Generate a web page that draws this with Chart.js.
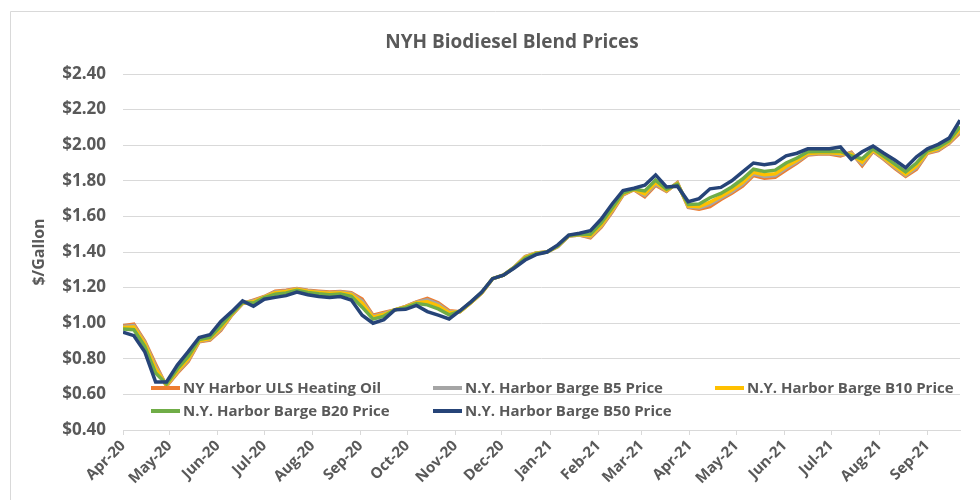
<!DOCTYPE html>
<html>
<head>
<meta charset="utf-8">
<script src="https://cdn.jsdelivr.net/npm/chart.js@4.4.0/dist/chart.umd.min.js"></script>
<style>
  html, body { margin: 0; padding: 0; background: #fff; }
  #wrap { width: 980px; height: 500px; }
</style>
</head>
<body>
<div id="wrap"><canvas id="blendChart"></canvas></div>
<script>
// NYH Biodiesel Blend Prices, weekly from Apr 1 2020
const firstWeek = '2020-04-01';

const seriesNames = [
  'NY Harbor ULS Heating Oil',
  'N.Y. Harbor Barge B5 Price',
  'N.Y. Harbor Barge B10 Price',
  'N.Y. Harbor Barge B20 Price',
  'N.Y. Harbor Barge B50 Price'
];

const heatingOil = [
  0.985, 0.995, 0.900, 0.770, 0.645, 0.720, 0.785, 0.895, 0.905, 0.960,
  1.045, 1.110, 1.130, 1.150, 1.180, 1.185, 1.195, 1.185, 1.180, 1.175,
  1.178, 1.172, 1.135, 1.045, 1.060, 1.075, 1.095, 1.120, 1.140, 1.115,
  1.070, 1.065, 1.115, 1.170, 1.250, 1.270, 1.315, 1.375, 1.395, 1.400,
  1.430, 1.490, 1.495, 1.480, 1.540, 1.625, 1.720, 1.750, 1.710, 1.775,
  1.740, 1.790, 1.650, 1.640, 1.655, 1.695, 1.730, 1.770, 1.830, 1.815,
  1.820, 1.860, 1.900, 1.945, 1.950, 1.950, 1.940, 1.960, 1.885, 1.965,
  1.920, 1.870, 1.825, 1.865, 1.955, 1.970, 2.010, 2.070
];

const b5Price = [
  0.981, 0.987, 0.893, 0.758, 0.648, 0.725, 0.792, 0.898, 0.909, 0.966,
  1.047, 1.112, 1.126, 1.148, 1.176, 1.181, 1.193, 1.182, 1.176, 1.171,
  1.175, 1.167, 1.124, 1.040, 1.055, 1.075, 1.093, 1.118, 1.131, 1.107,
  1.064, 1.065, 1.115, 1.170, 1.250, 1.270, 1.315, 1.373, 1.394, 1.400,
  1.431, 1.490, 1.496, 1.485, 1.545, 1.630, 1.723, 1.751, 1.718, 1.782,
  1.743, 1.788, 1.654, 1.647, 1.667, 1.703, 1.738, 1.780, 1.838, 1.824,
  1.830, 1.870, 1.907, 1.949, 1.954, 1.954, 1.946, 1.955, 1.894, 1.969,
  1.924, 1.876, 1.831, 1.873, 1.958, 1.974, 2.014, 2.078
];

const b10Price = [
  0.976, 0.979, 0.885, 0.745, 0.651, 0.731, 0.799, 0.901, 0.913, 0.973,
  1.050, 1.114, 1.121, 1.146, 1.171, 1.178, 1.190, 1.179, 1.173, 1.168,
  1.171, 1.162, 1.113, 1.034, 1.050, 1.075, 1.091, 1.115, 1.121, 1.098,
  1.059, 1.066, 1.116, 1.171, 1.250, 1.270, 1.314, 1.370, 1.393, 1.400,
  1.433, 1.491, 1.498, 1.490, 1.551, 1.636, 1.726, 1.752, 1.726, 1.790,
  1.746, 1.785, 1.658, 1.655, 1.680, 1.712, 1.748, 1.790, 1.848, 1.834,
  1.840, 1.880, 1.914, 1.954, 1.958, 1.958, 1.953, 1.950, 1.905, 1.973,
  1.929, 1.882, 1.837, 1.883, 1.961, 1.979, 2.018, 2.088
];

const b20Price = [
  0.968, 0.963, 0.870, 0.720, 0.658, 0.743, 0.813, 0.908, 0.920, 0.985,
  1.055, 1.118, 1.113, 1.143, 1.163, 1.170, 1.185, 1.173, 1.165, 1.160,
  1.164, 1.151, 1.090, 1.023, 1.040, 1.075, 1.087, 1.110, 1.103, 1.080,
  1.047, 1.068, 1.118, 1.173, 1.250, 1.270, 1.313, 1.365, 1.390, 1.400,
  1.435, 1.493, 1.500, 1.500, 1.563, 1.648, 1.733, 1.754, 1.743, 1.804,
  1.753, 1.780, 1.667, 1.670, 1.705, 1.729, 1.765, 1.810, 1.865, 1.853,
  1.860, 1.900, 1.928, 1.963, 1.965, 1.965, 1.965, 1.940, 1.924, 1.980,
  1.938, 1.894, 1.850, 1.900, 1.968, 1.988, 2.025, 2.105
];

const b50Price = [
  0.950, 0.930, 0.840, 0.670, 0.670, 0.765, 0.840, 0.920, 0.935, 1.010,
  1.065, 1.125, 1.095, 1.135, 1.145, 1.155, 1.175, 1.160, 1.150, 1.145,
  1.150, 1.130, 1.045, 1.000, 1.020, 1.075, 1.078, 1.100, 1.065, 1.045,
  1.024, 1.070, 1.120, 1.175, 1.250, 1.270, 1.310, 1.355, 1.385, 1.400,
  1.440, 1.495, 1.505, 1.520, 1.585, 1.670, 1.745, 1.758, 1.775, 1.833,
  1.765, 1.770, 1.683, 1.700, 1.755, 1.763, 1.800, 1.850, 1.900, 1.890,
  1.900, 1.940, 1.955, 1.980, 1.980, 1.980, 1.990, 1.920, 1.963, 1.995,
  1.955, 1.917, 1.874, 1.935, 1.980, 2.005, 2.040, 2.140
];

const seriesColors = ['#ED7D31', '#A5A5A5', '#FFC000', '#70AD47', '#264478'];

// month ticks on the date axis
const monthStarts = [
  '2020-04-01', '2020-05-01', '2020-06-01', '2020-07-01', '2020-08-01', '2020-09-01',
  '2020-10-01', '2020-11-01', '2020-12-01', '2021-01-01', '2021-02-01', '2021-03-01',
  '2021-04-01', '2021-05-01', '2021-06-01', '2021-07-01', '2021-08-01', '2021-09-01'
];
const monthLabels = [
  'Apr-20', 'May-20', 'Jun-20', 'Jul-20', 'Aug-20', 'Sep-20',
  'Oct-20', 'Nov-20', 'Dec-20', 'Jan-21', 'Feb-21', 'Mar-21',
  'Apr-21', 'May-21', 'Jun-21', 'Jul-21', 'Aug-21', 'Sep-21'
];

const dayMs = 86400000;
const startMs = Date.parse(firstWeek);
const monthDays = monthStarts.map(d => (Date.parse(d) - startMs) / dayMs);

function weekly(values) {
  return values.map((v, i) => ({ x: i * 7, y: v }));
}

const allSeries = [heatingOil, b5Price, b10Price, b20Price, b50Price];

const textGray = '#595959';
const gridGray = '#D9D9D9';
const fontFamily = '"Open Sans", "DejaVu Sans", sans-serif';

const frame = {
  id: 'frame',
  beforeDraw(chart) {
    const ctx = chart.ctx;
    ctx.save();
    ctx.fillStyle = '#fff';
    ctx.fillRect(0, 0, chart.width, chart.height);
    ctx.strokeStyle = gridGray;
    ctx.lineWidth = 1;
    ctx.beginPath();
    ctx.moveTo(10.5, chart.height);
    ctx.lineTo(10.5, 11.5);
    ctx.lineTo(chart.width, 11.5);
    ctx.stroke();
    ctx.restore();
  },
  afterDraw(chart) {
    const ctx = chart.ctx;
    ctx.save();
    // title
    ctx.fillStyle = textGray;
    ctx.font = 'bold 19px ' + fontFamily;
    ctx.textAlign = 'center';
    ctx.textBaseline = 'middle';
    ctx.fillText('NYH Biodiesel Blend Prices', 512, 43);
    // legend inside the plot, 3 columns
    ctx.font = 'bold 15px ' + fontFamily;
    ctx.textAlign = 'left';
    chart.data.datasets.forEach((ds, i) => {
      const col = i % 3, row = Math.floor(i / 3);
      const x = 151 + col * 282;
      const y = 388 + row * 23;
      ctx.strokeStyle = ds.borderColor;
      ctx.lineWidth = 4;
      ctx.beginPath();
      ctx.moveTo(x, y);
      ctx.lineTo(x + 29, y);
      ctx.stroke();
      ctx.fillStyle = textGray;
      ctx.fillText(ds.label, x + 32, y + 1);
    });
    ctx.restore();
  }
};

const blendData = {
  datasets: seriesNames.map((name, i) => ({
    label: name,
    data: weekly(allSeries[i]),
    borderColor: seriesColors[i],
    backgroundColor: seriesColors[i],
    borderWidth: 3.5,
    pointRadius: 0,
    tension: 0,
    order: 5 - i
  }))
};

const config = {
  type: 'line',
  data: blendData,
  plugins: [frame],
  options: {
    responsive: true,
    maintainAspectRatio: false,
    animation: false,
    layout: { padding: { top: 74, left: 30, right: 20, bottom: 0 } },
    plugins: {
      legend: { display: false },
      title: { display: false },
      tooltip: { enabled: false }
    },
    scales: {
      x: {
        type: 'linear',
        min: 0,
        max: (heatingOil.length - 1) * 7,
        afterBuildTicks: (axis) => { axis.ticks = monthDays.map(v => ({ value: v })); },
        afterFit: (scale) => { scale.height = 70; },
        ticks: {
          autoSkip: false,
          minRotation: 45,
          maxRotation: 45,
          padding: 2,
          color: textGray,
          font: { family: fontFamily, size: 15, weight: 'bold' },
          callback: (value, index) => monthLabels[index]
        },
        grid: { drawOnChartArea: false, drawTicks: true, tickLength: 5, color: gridGray },
        border: { display: true, color: gridGray }
      },
      y: {
        min: 0.4,
        max: 2.4,
        afterFit: (scale) => { scale.width = 93; },
        ticks: {
          stepSize: 0.2,
          padding: 17,
          color: textGray,
          font: { family: fontFamily, size: 17, weight: 'bold' },
          callback: (v) => '$' + v.toFixed(2)
        },
        grid: { color: gridGray, drawTicks: false },
        border: { display: false },
        title: {
          display: true,
          text: '$/Gallon',
          color: textGray,
          padding: { top: 0, bottom: 0 },
          font: { family: fontFamily, size: 16, weight: 'bold' }
        }
      }
    }
  }
};

const blendChart = new Chart(document.getElementById('blendChart'), config);
</script>
</body>
</html>
